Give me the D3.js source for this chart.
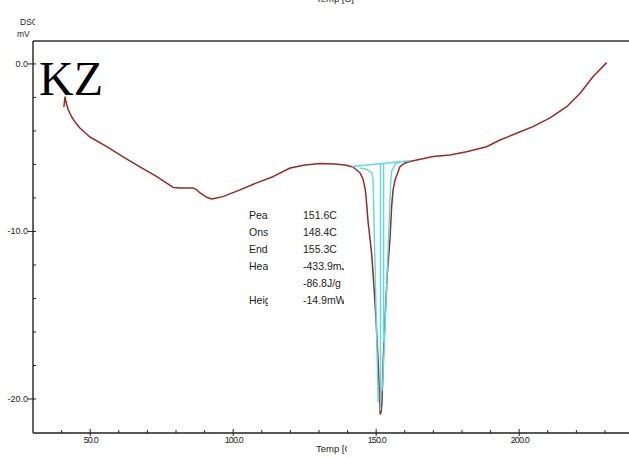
<!DOCTYPE html>
<html>
<head>
<meta charset="utf-8">
<script src="https://cdn.jsdelivr.net/npm/d3@7"></script>
<style>
  body { margin: 0; background: #fff; }
  svg { display: block; }
  text { font-family: "Liberation Sans", Arial, sans-serif; fill: #222; }
</style>
</head>
<body>
<div id="chart"></div>
<script>
// Curva DSC (temperatura em °C, sinal em mV)
const temps = [40.8, 41.2, 41.5, 42.2, 43.5, 44.7, 46.4, 49.9, 55.8, 61.5, 67.4, 73.3, 79.0, 81.4, 85.9, 87.3, 88.4, 90.5, 92.5, 96.4, 102.4, 108.2, 113.9, 119.9, 125.1, 130.4, 135.6, 139.1, 141.9, 144.4, 145.5, 146.2, 146.7, 147.2, 147.9, 148.5, 149.3, 150.0, 150.6, 151.1, 151.4, 151.7, 152.0, 152.5, 153.3, 153.9, 154.8, 155.4, 155.9, 156.6, 158.3, 160.1, 161.8, 169.9, 175.8, 181.6, 188.6, 193.3, 199.1, 204.8, 210.8, 216.6, 221.3, 225.8, 230.6];
const dsc = [-2.57, -1.97, -2.21, -2.69, -3.15, -3.46, -3.82, -4.36, -4.94, -5.55, -6.15, -6.73, -7.37, -7.40, -7.40, -7.52, -7.70, -7.94, -8.06, -7.92, -7.52, -7.10, -6.73, -6.21, -6.03, -5.94, -5.97, -6.03, -6.15, -6.51, -6.93, -7.52, -8.42, -9.49, -10.51, -11.50, -13.49, -15.46, -17.47, -19.46, -20.9, -20.8, -20.3, -17.47, -14.49, -12.50, -10.51, -8.52, -7.52, -6.93, -6.13, -5.91, -5.82, -5.53, -5.43, -5.24, -4.94, -4.54, -4.14, -3.74, -3.22, -2.55, -1.75, -0.76, 0.08];

// Linhas de avaliação do pico (ciano)
const baseLine = [[141.5, -6.12], [161.8, -5.78]];
const onsetLine = [[144.2, -6.2], [146.8, -6.3], [148.5, -6.5], [148.9, -6.9], [150.7, -20.2]];
const endsetLine = [[158.5, -5.85], [156.8, -5.95], [155.4, -6.4], [155.1, -7.0], [152.2, -19.5]];
const peakLine = [[151.5, -5.9], [151.5, -20.7]];
const peakLine2 = [[152.6, -5.9], [152.6, -16.6]];

// Eixos
const xMajor = [50, 100, 150, 200];
const xMinor = [40, 60, 70, 80, 90, 110, 120, 130, 140, 160, 170, 180, 190, 210, 220, 230];
const yMajor = [0, -10, -20];
const yMinor = [-2, -4, -6, -8, -12, -14, -16, -18];

// Resultado da análise
const resLabels = ["Peak", "Onset", "Endset", "Heat", "", "Height"];
const resValues = ["151.6C", "148.4C", "155.3C", "-433.9mJ", "-86.8J/g", "-14.9mW"];

const W = 629, H = 458;
const svg = d3.select("#chart").append("svg")
    .attr("width", W)
    .attr("height", H);

const x = d3.scaleLinear().domain([30, 238.4]).range([33, 629]);
const y = d3.scaleLinear().domain([-22.03, 1.37]).range([433, 41]);

// clip para textos cortados
const defs = svg.append("defs");
defs.append("clipPath").attr("id", "clipLab")
    .append("rect").attr("x", 240).attr("y", 200).attr("width", 28).attr("height", 120);
defs.append("clipPath").attr("id", "clipVal")
    .append("rect").attr("x", 300).attr("y", 200).attr("width", 44).attr("height", 120);
defs.append("clipPath").attr("id", "clipXt")
    .append("rect").attr("x", 300).attr("y", 435).attr("width", 47).attr("height", 23);
defs.append("clipPath").attr("id", "clipYt")
    .append("rect").attr("x", 0).attr("y", 0).attr("width", 35).attr("height", 40);

// moldura
svg.append("line").attr("x1", 33).attr("x2", W).attr("y1", 41).attr("y2", 41)
    .attr("stroke", "#333").attr("stroke-width", 1.6);
svg.append("line").attr("x1", 33).attr("x2", 33).attr("y1", 41).attr("y2", 433)
    .attr("stroke", "#222").attr("stroke-width", 1.4);
svg.append("line").attr("x1", 33).attr("x2", W).attr("y1", 433).attr("y2", 433)
    .attr("stroke", "#222").attr("stroke-width", 1.4);

// ticks x
svg.selectAll(".xmin").data(xMinor).enter().append("line")
    .attr("x1", d => x(d)).attr("x2", d => x(d))
    .attr("y1", 433).attr("y2", 430)
    .attr("stroke", "#222");
svg.selectAll(".xmaj").data(xMajor).enter().append("line")
    .attr("x1", d => x(d)).attr("x2", d => x(d))
    .attr("y1", 436).attr("y2", 429)
    .attr("stroke", "#222");
svg.selectAll(".xlab").data(xMajor).enter().append("text")
    .attr("x", d => x(d) + 1).attr("y", 443)
    .attr("text-anchor", "middle")
    .style("font-size", "9px")
    .attr("textLength", d => d >= 100 ? 19 : 15)
    .text(d3.format(".1f"));

// ticks y
svg.selectAll(".ymin").data(yMinor).enter().append("line")
    .attr("x1", 33).attr("x2", 36)
    .attr("y1", d => y(d)).attr("y2", d => y(d))
    .attr("stroke", "#222");
svg.selectAll(".ymaj").data(yMajor).enter().append("line")
    .attr("x1", 28).attr("x2", 36)
    .attr("y1", d => y(d)).attr("y2", d => y(d))
    .attr("stroke", "#222");
svg.selectAll(".ylab").data(yMajor).enter().append("text")
    .attr("x", 28).attr("y", d => y(d) + 3)
    .attr("text-anchor", "end")
    .style("font-size", "9px")
    .text(d => d3.format(".1f")(d).replace("−", "-"));

// rótulos dos eixos
svg.append("text").attr("x", 20).attr("y", 25)
    .attr("clip-path", "url(#clipYt)")
    .style("font-size", "8.5px").text("DSC");
svg.append("text").attr("x", 17).attr("y", 37)
    .style("font-size", "8.5px").text("mV");
svg.append("text").attr("x", 316).attr("y", 452)
    .attr("clip-path", "url(#clipXt)")
    .style("font-size", "9.5px").text("Temp [C]");
svg.append("text").attr("x", 316).attr("y", 2)
    .style("font-size", "9.5px").text("Temp [C]");

// curva
const line = d3.line().x(d => x(d[0])).y(d => y(d[1]));
svg.append("path")
    .datum(d3.zip(temps, dsc))
    .attr("fill", "none")
    .attr("stroke", "#962a24")
    .attr("stroke-width", 1.5)
    .attr("stroke-linejoin", "round")
    .attr("d", line);

[baseLine, onsetLine, endsetLine, peakLine, peakLine2].forEach(seg => {
    svg.append("path")
        .datum(seg)
        .attr("fill", "none")
        .attr("stroke", "#58dbe3")
        .attr("stroke-width", 1.4)
        .attr("d", line);
});

// resultados
const res = svg.append("g");
res.selectAll(".rl").data(resLabels).enter().append("text")
    .attr("x", 249).attr("y", (d, i) => 219 + i * 17)
    .attr("clip-path", "url(#clipLab)")
    .style("font-size", "10.5px")
    .text(d => d);
res.selectAll(".rv").data(resValues).enter().append("text")
    .attr("x", 303).attr("y", (d, i) => 219 + i * 17)
    .attr("clip-path", "url(#clipVal)")
    .style("font-size", "10.5px")
    .text(d => d);

// identificação da amostra
svg.append("text").attr("x", 39).attr("y", 95)
    .style("font-family", "'Liberation Serif', 'Times New Roman', serif")
    .style("font-size", "48px")
    .style("fill", "#000")
    .text("KZ");
</script>
</body>
</html>
